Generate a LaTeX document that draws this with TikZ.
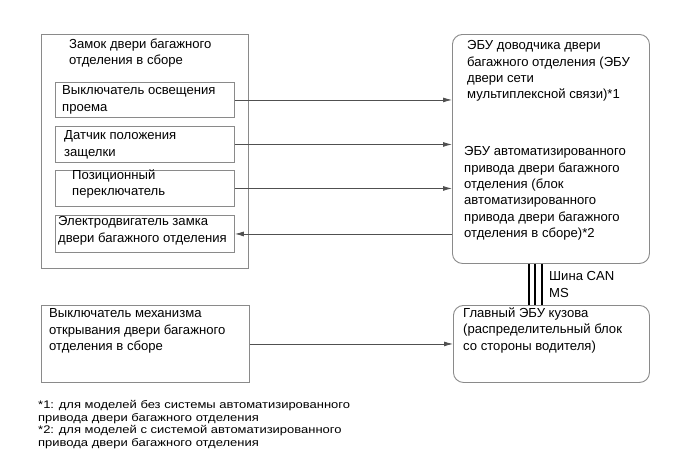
\documentclass[tikz,border=0pt]{standalone}
\usepackage{fontspec}
\setmainfont{Liberation Sans}
\newfontfamily\footfont[FakeStretch=1.18]{Liberation Sans}
\usetikzlibrary{arrows.meta}
\definecolor{boxgray}{HTML}{8A8A8A}
\definecolor{linecol}{HTML}{505050}
\begin{document}
\begin{tikzpicture}[x=1pt,y=-1pt,
  box/.style={draw=boxgray, line width=0.9pt, inner sep=0pt, anchor=north west},
  rbox/.style={box, rounded corners=10pt},
  lbl/.style={anchor=north west, align=left, inner sep=0pt, font=\fontsize{13.1}{16.3}\selectfont},
  foot/.style={anchor=north west, align=left, inner sep=0pt, font=\footfont\fontsize{11}{12.7}\selectfont},
  conn/.style={draw=linecol, line width=0.8pt, -{Latex[length=9pt,width=5pt]}},
  bus/.style={draw=black, line width=2.6pt}]
\useasboundingbox (0,0) rectangle (690,464);
\fill[white] (0,0) rectangle (690,464);
% boxes
\node[box, minimum width=207pt, minimum height=234pt] (lock) at (41,34) {};
\node[box, minimum width=179pt, minimum height=35pt] (b1) at (55,82) {};
\node[box, minimum width=179pt, minimum height=36pt] (b2) at (55,126) {};
\node[box, minimum width=179pt, minimum height=36pt] (b3) at (55,170) {};
\node[box, minimum width=179pt, minimum height=37pt] (b4) at (55,215) {};
\node[rbox, minimum width=197pt, minimum height=229pt] (r1) at (452,34) {};
\node[rbox, minimum width=196pt, minimum height=77pt] (r2) at (453,305) {};
\node[box, minimum width=208pt, minimum height=77pt] (ll) at (41,305) {};
% texts
\node[lbl] (lockT) at (69,38.5) {Замок двери багажного\\отделения в сборе};
\node[lbl] (b1T) at (62,85.5) {Выключатель освещения\\проема};
\node[lbl] (b2T) at (64,130.5) {Датчик положения\\защелки};
\node[lbl] (b3T) at (72,169.5) {Позиционный\\переключатель};
\node[lbl] (b4T) at (58,216.5) {Электродвигатель замка\\двери багажного отделения};
\node[lbl] (r1aT) at (467,40.5) {ЭБУ доводчика двери\\багажного отделения (ЭБУ\\двери сети\\мультиплексной связи)*1};
\node[lbl] (r1bT) at (464,146.5) {ЭБУ автоматизированного\\привода двери багажного\\отделения (блок\\автоматизированного\\привода двери багажного\\отделения в сборе)*2};
\node[lbl] (r2T) at (463,307.5) {Главный ЭБУ кузова\\(распределительный блок\\со стороны водителя)};
\node[lbl] (llT) at (49,308.5) {Выключатель механизма\\открывания двери багажного\\отделения в сборе};
\node[lbl] (canT) at (549,271.5) {Шина CAN\\MS};
\node[foot] (fn) at (38,400) {*1: для моделей без системы автоматизированного\\привода двери багажного отделения\\*2: для моделей с системой автоматизированного\\привода двери багажного отделения};
% connectors
\draw[conn] (b1.east) -- (b1.east -| r1.west);
\draw[conn] (b2.east) -- (b2.east -| r1.west);
\draw[conn] (b3.east) -- (b3.east -| r1.west);
\draw[conn] (b4.east -| r1.west) -- (b4.east);
\draw[conn] (ll.east) -- (ll.east -| r2.west);
\draw[bus] ([xshift=77pt]r1.south west) -- ([xshift=77pt]r1.south west |- r2.north);
\draw[bus] ([xshift=83pt]r1.south west) -- ([xshift=83pt]r1.south west |- r2.north);
\draw[bus] ([xshift=90pt]r1.south west) -- ([xshift=90pt]r1.south west |- r2.north);
\end{tikzpicture}
\end{document}
